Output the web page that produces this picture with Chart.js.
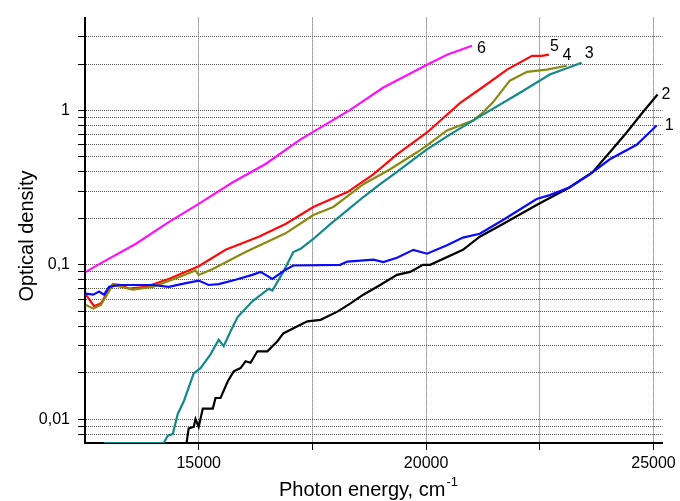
<!DOCTYPE html>
<html>
<head>
<meta charset="utf-8">
<script src="https://cdn.jsdelivr.net/npm/chart.js@4.4.1/dist/chart.umd.min.js"></script>
<style>
    html, body { margin: 0; padding: 0; background: #fff; }
</style>
</head>
<body>
<canvas id="chart" width="680" height="501"></canvas>
<script>
// Photon energy (cm-1) and optical density for each curve
const energy1 = [12520, 12680, 12810, 12920, 13030, 13250, 13990, 14340, 14720, 15000, 15220, 15440, 15810, 16180, 16360, 16620, 16910, 17080, 18110, 18270, 18840, 19060, 19360, 19720, 20020, 20460, 20810, 21180, 21690, 22430, 22720, 23160, 23600, 24040, 24630, 25070];
const density1 = [0.065, 0.064, 0.067, 0.064, 0.072, 0.074, 0.074, 0.072, 0.076, 0.079, 0.074, 0.075, 0.080, 0.086, 0.090, 0.081, 0.093, 0.099, 0.100, 0.105, 0.108, 0.104, 0.111, 0.125, 0.118, 0.134, 0.150, 0.159, 0.195, 0.267, 0.283, 0.318, 0.386, 0.483, 0.60, 0.80];

const energy2 = [14700, 14780, 14890, 14930, 15000, 15090, 15310, 15370, 15480, 15640, 15770, 15920, 16030, 16140, 16290, 16510, 16730, 16860, 17170, 17390, 17680, 18050, 18330, 18620, 18990, 19360, 19650, 19930, 20090, 20810, 21180, 21690, 22430, 23160, 23660, 24040, 24410, 24760, 25090];
const density2 = [0.006, 0.0087, 0.0089, 0.010, 0.0089, 0.0117, 0.0117, 0.0137, 0.0137, 0.0176, 0.0204, 0.0214, 0.0237, 0.0232, 0.0275, 0.0275, 0.032, 0.0359, 0.040, 0.043, 0.044, 0.0497, 0.056, 0.064, 0.074, 0.086, 0.090, 0.100, 0.100, 0.125, 0.152, 0.184, 0.244, 0.318, 0.398, 0.536, 0.72, 0.97, 1.27];

const energy3 = [12920, 14230, 14320, 14430, 14540, 14670, 14890, 15040, 15260, 15440, 15550, 15700, 15860, 16180, 16540, 16620, 16860, 17080, 17240, 17520, 17900, 18270, 18620, 18990, 19360, 19870, 20020, 20530, 21250, 22000, 22720, 23420];
const density3 = [0.007, 0.007, 0.0078, 0.008, 0.0108, 0.013, 0.0198, 0.0214, 0.0263, 0.0327, 0.0297, 0.0371, 0.046, 0.058, 0.070, 0.068, 0.090, 0.121, 0.127, 0.147, 0.184, 0.226, 0.275, 0.333, 0.40, 0.52, 0.56, 0.70, 0.94, 1.27, 1.71, 2.04];

const energy4 = [12520, 12680, 12850, 13110, 13550, 13990, 14560, 14930, 15000, 15310, 16030, 16910, 17520, 17960, 18620, 19210, 19800, 20020, 20460, 21030, 21250, 21470, 21840, 22220, 22650, 23090];
const density4 = [0.055, 0.052, 0.055, 0.074, 0.069, 0.072, 0.083, 0.092, 0.086, 0.094, 0.121, 0.160, 0.210, 0.237, 0.333, 0.416, 0.536, 0.594, 0.743, 0.86, 0.97, 1.13, 1.56, 1.78, 1.84, 1.95];

const energy5 = [12520, 12700, 12850, 12960, 13110, 13290, 13470, 13840, 14340, 15000, 15590, 16320, 16910, 17520, 18270, 18840, 19360, 20020, 20750, 21250, 21780, 22330, 22540, 22700];
const density5 = [0.064, 0.054, 0.056, 0.064, 0.075, 0.074, 0.070, 0.072, 0.081, 0.098, 0.125, 0.152, 0.184, 0.237, 0.296, 0.386, 0.52, 0.72, 1.12, 1.42, 1.84, 2.26, 2.26, 2.30];

const energy6 = [12520, 12810, 13620, 14340, 15000, 15750, 16470, 17240, 18330, 19060, 20020, 20460, 21010];
const density6 = [0.090, 0.101, 0.137, 0.189, 0.248, 0.343, 0.45, 0.65, 1.01, 1.41, 1.98, 2.30, 2.63];

const curveNames = ['1', '2', '3', '4', '5', '6'];

const xTickValues = [15000, 17500, 20000, 22500, 25000];
const xTickLabels = ['15000', '', '20000', '', '25000'];
const yTickValues = [0.008, 0.009, 0.01, 0.02, 0.03, 0.04, 0.05, 0.06, 0.07, 0.08, 0.09,
                     0.1, 0.2, 0.3, 0.4, 0.5, 0.6, 0.7, 0.8, 0.9, 1, 2, 3];
const yLabeledValues = [0.01, 0.1, 1];
const yLabelTexts = ['0,01', '0,1', '1'];

function toPoints(xs, ys) {
    return xs.map((x, i) => ({ x: x, y: ys[i] }));
}

const fontFamily = '"Liberation Sans", Arial, sans-serif';

// where each curve number sits relative to the curve's last point
const labelShift = [[8, 0], [4, 0], [3, -9], [-4, -10], [1, -8], [5, 3]];

const endLabels = {
    id: 'endLabels',
    afterDatasetsDraw(chart) {
        const ctx = chart.ctx;
        ctx.save();
        ctx.font = '16px ' + fontFamily;
        ctx.fillStyle = '#000';
        ctx.textAlign = 'left';
        ctx.textBaseline = 'middle';
        chart.data.datasets.forEach((ds, i) => {
            const pts = chart.getDatasetMeta(i).data;
            const last = pts[pts.length - 1];
            ctx.fillText(ds.label, last.x + labelShift[i][0], last.y + labelShift[i][1]);
        });
        ctx.restore();
    }
};

// axis titles (x title needs a superscript)
const axisTitles = {
    id: 'axisTitles',
    afterDraw(chart) {
        const ctx = chart.ctx;
        ctx.save();
        ctx.fillStyle = '#000';
        ctx.textBaseline = 'alphabetic';

        ctx.font = '20px ' + fontFamily;
        ctx.textAlign = 'left';
        const main = 'Photon energy, cm';
        ctx.fillText(main, 279, 496);
        const w = ctx.measureText(main).width;
        ctx.font = '13px ' + fontFamily;
        ctx.fillText('-1', 279 + w + 1, 486);

        ctx.font = '20px ' + fontFamily;
        ctx.translate(33, 236);
        ctx.rotate(-Math.PI / 2);
        ctx.textAlign = 'center';
        ctx.fillText('Optical density', 0, 0);
        ctx.restore();
    }
};

function makeSet(name, pts, color) {
    return {
        label: name,
        data: pts,
        borderColor: color,
        backgroundColor: color,
        borderWidth: 2.2,
        pointRadius: 0,
        tension: 0,
        fill: false
    };
}

const ctx = document.getElementById('chart').getContext('2d');

new Chart(ctx, {
    type: 'line',
    data: {
        datasets: [
            makeSet(curveNames[0], toPoints(energy1, density1), '#0a0aff'),
            makeSet(curveNames[1], toPoints(energy2, density2), '#000000'),
            makeSet(curveNames[2], toPoints(energy3, density3), '#128a8a'),
            makeSet(curveNames[3], toPoints(energy4, density4), '#8a8a10'),
            makeSet(curveNames[4], toPoints(energy5, density5), '#ff0a0a'),
            makeSet(curveNames[5], toPoints(energy6, density6), '#ff10ff')
        ]
    },
    options: {
        responsive: false,
        devicePixelRatio: 1,
        animation: false,
        layout: {
            padding: { left: 0, top: 13, right: 17, bottom: 0 }
        },
        plugins: {
            legend: { display: false },
            tooltip: { enabled: false }
        },
        scales: {
            x: {
                type: 'linear',
                min: 12500,
                max: 25200,
                afterBuildTicks: function(scale) {
                    scale.ticks = xTickValues.map(v => ({ value: v }));
                },
                afterFit: function(scale) {
                    scale.height = 58;
                },
                ticks: {
                    autoSkip: false,
                    maxRotation: 0,
                    padding: 4,
                    color: '#000',
                    font: { family: fontFamily, size: 16 },
                    callback: function(value) {
                        const i = xTickValues.indexOf(value);
                        return i >= 0 ? xTickLabels[i] : '';
                    }
                },
                grid: {
                    color: '#555',
                    lineWidth: 1,
                    tickLength: 7,
                    tickColor: '#000',
                    tickBorderDash: []
                },
                border: {
                    display: true,
                    color: '#000',
                    width: 2,
                    dash: [1, 1]
                }
            },
            y: {
                type: 'logarithmic',
                min: 0.007,
                max: 4,
                afterBuildTicks: function(scale) {
                    scale.ticks = yTickValues.map(v => ({ value: v }));
                },
                afterFit: function(scale) {
                    scale.width = 85;
                },
                ticks: {
                    autoSkip: false,
                    padding: 8,
                    color: '#000',
                    font: { family: fontFamily, size: 16 },
                    callback: function(value) {
                        const i = yLabeledValues.indexOf(value);
                        return i >= 0 ? yLabelTexts[i] : '';
                    }
                },
                grid: {
                    color: '#555',
                    lineWidth: 1,
                    tickLength: 7,
                    tickColor: '#000',
                    tickBorderDash: []
                },
                border: {
                    display: true,
                    color: '#000',
                    width: 2,
                    dash: [1, 1]
                }
            }
        }
    },
    plugins: [endLabels, axisTitles]
});
</script>
</body>
</html>
